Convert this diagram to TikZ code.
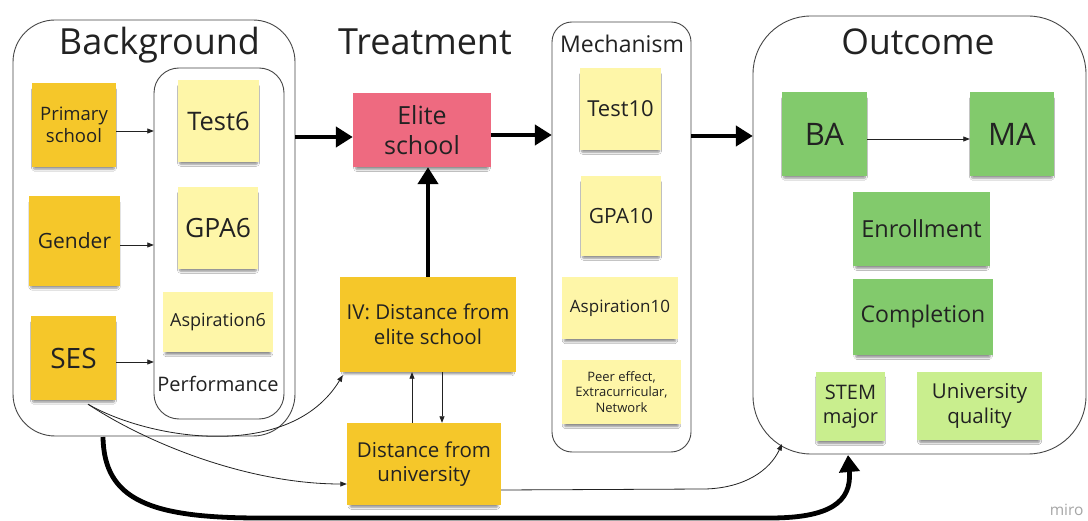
\documentclass[tikz,border=0pt]{standalone}
\usepackage{fontspec}
\setmainfont{Open Sans}
\usetikzlibrary{arrows.meta,shadows,shadows.blur,calc}
\definecolor{dy}{RGB}{245,199,42}
\definecolor{ly}{RGB}{254,246,168}
\definecolor{pk}{RGB}{238,106,128}
\definecolor{gr}{RGB}{130,202,108}
\definecolor{lg}{RGB}{201,238,142}
\definecolor{ink}{RGB}{34,34,34}
\definecolor{frame}{RGB}{70,70,70}
\tikzset{
  sticky/.style={rectangle,inner sep=2pt,align=center,text=ink,
    blur shadow={shadow xshift=0pt,shadow yshift=-4pt,shadow scale=0.96,shadow blur steps=6,shadow blur extra rounding=1pt,shadow opacity=45}},
  sz/.style 2 args={minimum width=#1,minimum height=#2},
  fs/.style={font=\fontsize{#1pt}{\dimexpr #1pt*6/5\relax}\selectfont},
  container/.style={draw=frame,line width=0.9pt},
  thinarrow/.style={draw=ink,line width=0.8pt,-{Triangle[length=6.5pt,width=5pt]}},
  fatarrow/.style={draw=black,line width=4.8pt,-{Triangle[length=17pt,width=20pt]}},
  ttl/.style={anchor=base,text=ink},
}
\begin{document}
\begin{tikzpicture}[x=1pt,y=-1pt]
\useasboundingbox (0,0) rectangle (1088,521);
\fill[white] (0,0) rectangle (1088,521);
% containers
\draw[container,rounded corners=42pt] (13,20) rectangle (295,436);
\draw[container,rounded corners=25pt] (154,68) rectangle (284,419);
\draw[container,rounded corners=20pt] (552,22) rectangle (691,452);
\draw[container,rounded corners=58pt] (753,16) rectangle (1086,454);
\node[inner sep=0,minimum width=282pt,minimum height=416pt] (bg) at (154,228) {};
\node[inner sep=0,minimum width=130pt,minimum height=351pt] (perf) at (219,243.5) {};
\node[inner sep=0,minimum width=139pt,minimum height=430pt] (mech) at (621.5,237) {};
\node[inner sep=0,minimum width=333pt,minimum height=438pt] (out) at (919.5,235) {};
% titles
\node[ttl,fs=36] (tbg) at (159.5,55) {Background};
\node[ttl,fs=36] (ttr) at (425,55) {Treatment};
\node[ttl,fs=23] (tme) at (622,53) {Mechanism};
\node[ttl,fs=35.5] (tou) at (918,55) {Outcome};
\node[ttl,fs=20] (tpe) at (218,392) {Performance};
% background stickies
\node[sticky,fill=dy,sz={84pt}{84pt},fs=18.5] (prim) at (74,125) {Primary\\school};
\node[sticky,fill=dy,sz={91pt}{90pt},fs=21] (gender) at (74.5,241) {Gender};
\node[sticky,fill=dy,sz={85pt}{84pt},fs=28] (ses) at (73.5,358) {SES};
\node[sticky,fill=ly,sz={81pt}{82pt},fs=25.5] (test6) at (218.5,121) {Test6};
\node[sticky,fill=ly,sz={80pt}{82pt},fs=26.5] (gpa6) at (218,228) {GPA6};
\node[sticky,fill=ly,sz={110pt}{60pt},fs=18] (asp6) at (218,322) {Aspiration6};
% treatment
\node[sticky,fill=pk,sz={138pt}{74pt},fs=25] (elite) at (422,130) {Elite\\school};
\node[sticky,fill=dy,sz={176pt}{95pt},fs=20.5] (iv) at (428,324.5) {IV: Distance from\\elite school};
\node[sticky,fill=dy,sz={154pt}{82pt},fs=20.5] (dfu) at (424,464) {Distance from\\university};
% mechanism
\node[sticky,fill=ly,sz={81pt}{82pt},fs=22] (test10) at (620.5,109) {Test10};
\node[sticky,fill=ly,sz={80pt}{80pt},fs=21] (gpa10) at (621,216) {GPA10};
\node[sticky,fill=ly,sz={116pt}{62pt},fs=17] (asp10) at (620,308) {Aspiration10};
\node[sticky,fill=ly,sz={119pt}{64pt},fs=13] (peer) at (621.5,392) {Peer effect,\\Extracurricular,\\Network};
% outcome
\node[sticky,fill=gr,sz={85pt}{84pt},fs=31] (ba) at (824.5,134) {BA};
\node[sticky,fill=gr,sz={84pt}{84pt},fs=31] (ma) at (1012,134) {MA};
\node[sticky,fill=gr,sz={137pt}{74pt},fs=23.5] (enroll) at (921.5,229) {Enrollment};
\node[sticky,fill=gr,sz={140pt}{76pt},fs=23] (compl) at (923,317) {Completion};
\node[sticky,fill=lg,sz={69pt}{69pt},fs=20] (stem) at (850.5,406.5) {STEM\\major};
\node[sticky,fill=lg,sz={125pt}{68pt},fs=20.5] (uq) at (979.5,406) {University\\quality};
\node[text=black!35,fs=15.5,anchor=base east] (miro) at (1087,515) {miro};
% thin arrows
\draw[thinarrow] ([yshift=-6pt]prim.east) -- ([yshift=-6pt]prim.east -| perf.west);
\draw[thinarrow] ([yshift=-4pt]gender.east) -- ([yshift=-4pt]gender.east -| perf.west);
\draw[thinarrow] ([yshift=-4pt]ses.east) -- ([yshift=-4pt]ses.east -| perf.west);
\draw[thinarrow] ([yshift=-5pt]ba.east) -- ([yshift=-5pt]ma.west);
\draw[thinarrow] ([xshift=-12pt]dfu.north) -- ([xshift=-12pt]dfu.north |- iv.south);
\draw[thinarrow] ([xshift=14pt]iv.south) -- ([xshift=14pt]iv.south |- dfu.north);
% fat arrows
\draw[fatarrow] ([yshift=-7pt]elite.west -| bg.east) -- ([yshift=-7pt]elite.west);
\draw[fatarrow] ([yshift=-5pt]elite.east) -- ([yshift=-5pt]elite.east -| mech.west);
\draw[fatarrow] ([yshift=-6pt]elite.east -| mech.east) -- ([yshift=-6pt]elite.east -| out.west);
\draw[fatarrow] (iv.north) -- (iv.north |- elite.south);
% curves from SES
\coordinate (sesout) at ([xshift=14.5pt,yshift=-4pt]ses.south);
\coordinate (ivin) at ([xshift=3pt,yshift=-3pt]iv.south west);
\draw[thinarrow] (sesout) .. controls (150,440) and (290,462) .. (ivin);
\draw[thinarrow] (sesout) .. controls (150,445) and (250,484) .. ([yshift=-20pt]dfu.west);
\coordinate (outin) at (782,444);
\draw[thinarrow] ([yshift=-26pt]dfu.east) -- (705,489) .. controls (745,488) and (770,470) .. (outin);
\coordinate (bgout) at (103,437);
\coordinate (outbot) at (848,455);
\draw[fatarrow] (bgout) .. controls (104,500) and (150,518) .. (260,518) -- (770,518) .. controls (830,518) and (852,502) .. (outbot);
\end{tikzpicture}
\end{document}
